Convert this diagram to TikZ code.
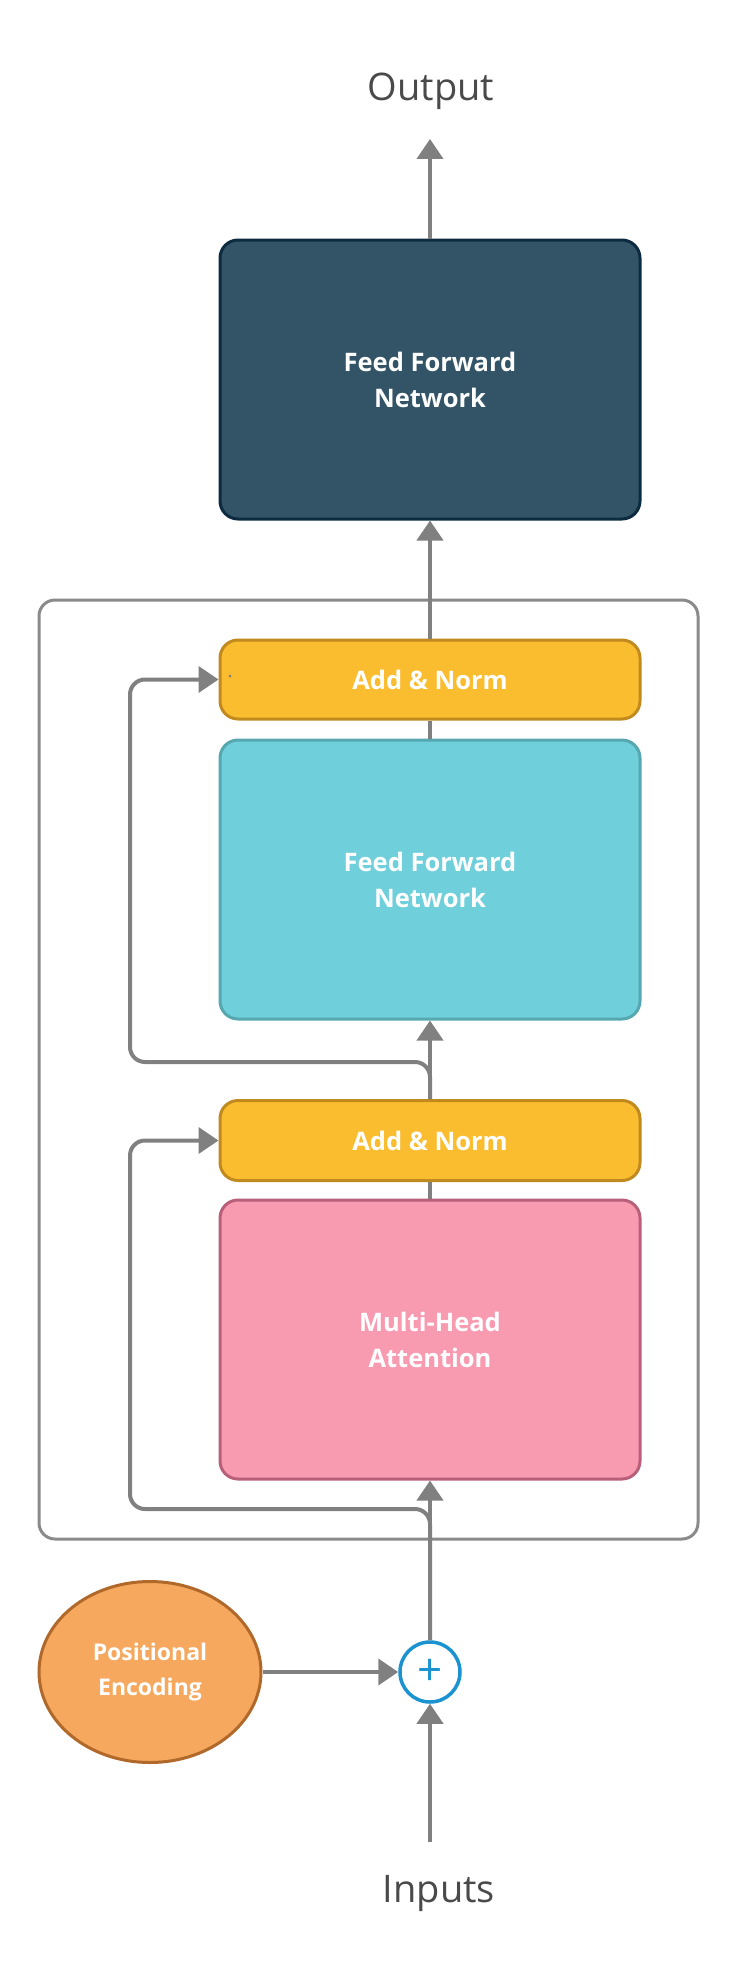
\documentclass[tikz,border=0pt]{standalone}
\usepackage{fontspec}
\setmainfont{Open Sans}
\usetikzlibrary{arrows.meta,shapes.geometric}
\definecolor{conncol}{HTML}{808080}
\definecolor{framecol}{HTML}{8A8A8A}
\definecolor{labelgray}{HTML}{4A4A4A}
\definecolor{topfill}{HTML}{335466}
\definecolor{topdraw}{HTML}{0D2B40}
\definecolor{anfill}{HTML}{FBBD30}
\definecolor{andraw}{HTML}{C08A1E}
\definecolor{fffill}{HTML}{6FCFDB}
\definecolor{ffdraw}{HTML}{56A7AF}
\definecolor{mhfill}{HTML}{F89AB0}
\definecolor{mhdraw}{HTML}{B8607A}
\definecolor{pefill}{HTML}{F5A85E}
\definecolor{pedraw}{HTML}{B0692A}
\definecolor{plusblue}{HTML}{1A93D0}
\tikzset{
  blockbox/.style={draw, line width=3pt, rounded corners=18pt, minimum width=420pt,
    text=white, align=center, font=\bfseries\fontsize{25.5}{36}\selectfont, inner sep=0pt},
  conn/.style={draw=conncol, line width=4pt},
  arrowconn/.style={conn, -{Triangle[length=20pt,width=26pt]}},
  biglabel/.style={text=labelgray, font=\fontsize{38}{40}\selectfont, inner sep=0pt},
}
\begin{document}
\begin{tikzpicture}[x=1pt,y=-1pt]
\useasboundingbox (0,0) rectangle (740,1980);
% container
\node[draw=framecol, line width=3pt, rounded corners=16pt, minimum width=659pt, minimum height=939pt, inner sep=0pt] (container) at (368.5,1069.5) {};
% blocks
\node[blockbox, fill=topfill, draw=topdraw, minimum height=279pt] (ffntop) at (430,379.5) {Feed Forward\\Network};
\node[blockbox, fill=anfill, draw=andraw, minimum height=79pt] (an1) at (430,679.5) {Add \& Norm};
\node[blockbox, fill=fffill, draw=ffdraw, minimum height=279pt] (ffn) at (430,879.5) {Feed Forward\\Network};
\node[blockbox, fill=anfill, draw=andraw, minimum height=80pt] (an2) at (430,1140.5) {Add \& Norm};
\node[blockbox, fill=mhfill, draw=mhdraw, minimum height=279pt] (mha) at (430,1339.5) {Multi-Head\\Attention};
% positional encoding and plus
\node[ellipse, draw=pedraw, fill=pefill, line width=3pt, minimum width=222pt, minimum height=181pt, inner sep=0pt,
  text=white, align=center, font=\bfseries\fontsize{23}{35}\selectfont] (pe) at (150,1672) {Positional\\Encoding};
\node[circle, draw=plusblue, fill=white, line width=3.5pt, minimum size=60pt, inner sep=0pt,
  text=plusblue, font=\fontsize{44}{44}\selectfont] (plus) at (430,1672) {+};
% labels
\node[biglabel] (output) at (431,91) {Output};
\node[biglabel] (inputs) at (439,1893) {Inputs};
\coordinate (outtip) at (430,139);
\coordinate (inend) at (430,1842);
\coordinate (r1) at (130,1062);
\coordinate (r2) at (130,1509);
% stray dot
\fill[conncol] (230,676) circle (1.5pt);
% connectors
\draw[arrowconn] (inend) -- (plus.south);
\draw[arrowconn] (pe.east) -- (plus.west);
\draw[arrowconn] (plus.north) -- (mha.south);
\draw[conn] (mha.north) -- (an2.south);
\draw[arrowconn] (an2.north) -- (ffn.south);
\draw[conn] (ffn.north) -- (an1.south);
\draw[arrowconn] (an1.north) -- (ffntop.south);
\draw[arrowconn] (ffntop.north) -- (outtip);
\draw[arrowconn, rounded corners=15pt] (plus.north) |- (r2) |- (an2.west);
\draw[arrowconn, rounded corners=15pt] (an2.north) |- (r1) |- (an1.west);
\end{tikzpicture}
\end{document}
